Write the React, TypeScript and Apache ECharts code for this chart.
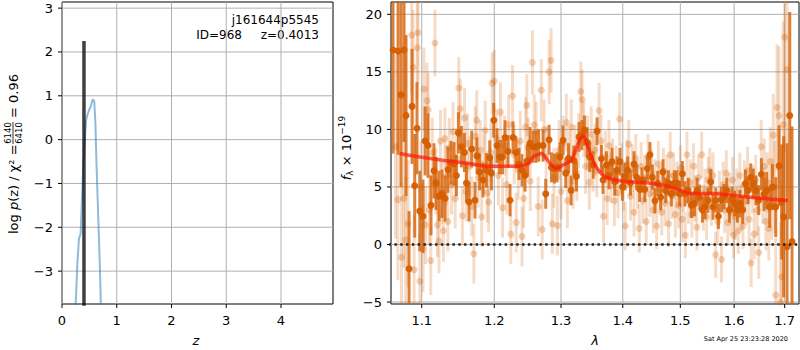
import React, { useEffect, useRef } from 'react';
import * as echarts from 'echarts';

const FONT = 'DejaVu Sans';

// ---- Left panel: p(z)
const PZ_Z = [0.2, 0.25, 0.28, 0.31, 0.34, 0.39, 0.42, 0.44, 0.47, 0.5, 0.52, 0.55, 0.567, 0.59, 0.61, 0.63, 0.66, 0.69, 0.71, 0.74];
const PZ_LOGP = [-5, -3.76, -2.83, -2.26, -2.15, -0.55, 0.06, 0.44, 0.59, 0.69, 0.73, 0.88, 0.92, 0.86, 0.37, -0.55, -1.69, -2.83, -3.76, -5];
const Z_BEST = [0.4013, 0.4013];
const Z_BEST_LOGP = [-4, 2.25];
const PZ_X_TICKS = [0, 1, 2, 3, 4];
const PZ_Y_TICKS = [-3, -2, -1, 0, 1, 2, 3];
const PZ_X_RANGE = [0, 4.95];
const PZ_Y_RANGE = [-3.75, 3.14];

// ---- Right panel: spectrum
const SPEC_X_TICKS = [1.1, 1.2, 1.3, 1.4, 1.5, 1.6, 1.7];
const SPEC_Y_TICKS = [-5, 0, 5, 10, 15, 20];
const SPEC_X_RANGE = [1.0602, 1.7295];
const SPEC_Y_RANGE = [-5.17, 21.07];

const LIGHT_WAVE = [
  1.066, 1.069, 1.0737, 1.0765, 1.079, 1.082, 1.0868, 1.0886, 1.09, 1.094, 1.0951, 1.0975, 1.099, 1.1017, 1.103, 1.105, 1.107, 1.1085, 1.11, 1.112, 1.114, 1.1176, 1.119, 1.121, 1.123, 1.125,
  1.127, 1.129, 1.131, 1.133, 1.135, 1.137, 1.14, 1.142, 1.145, 1.147, 1.15, 1.152, 1.155, 1.158, 1.16, 1.162, 1.165, 1.168, 1.171, 1.173, 1.175, 1.177, 1.18, 1.182, 1.185, 1.187, 1.19, 1.192, 1.195, 1.197, 1.2,
  1.203, 1.206, 1.209, 1.212, 1.215, 1.218, 1.221, 1.224, 1.2265, 1.229, 1.232, 1.235, 1.238, 1.2406, 1.243, 1.246, 1.2478, 1.25, 1.253, 1.2562, 1.259, 1.262, 1.265, 1.2697, 1.271, 1.274, 1.277, 1.2817, 1.2846, 1.2865, 1.289, 1.2944, 1.297,
  1.3, 1.303, 1.3083, 1.31, 1.313, 1.316, 1.319, 1.322, 1.325, 1.328, 1.3312, 1.3333, 1.336, 1.339, 1.342, 1.345, 1.348, 1.351, 1.354, 1.357, 1.3607, 1.364, 1.3681, 1.371, 1.374, 1.377, 1.38, 1.383, 1.386, 1.389, 1.392, 1.3947, 1.398,
  1.401, 1.404, 1.407, 1.41, 1.413, 1.416, 1.419, 1.422, 1.425, 1.428, 1.431, 1.434, 1.437, 1.44, 1.443, 1.446, 1.449, 1.452, 1.455, 1.458, 1.461, 1.464, 1.467, 1.47, 1.473, 1.476, 1.479, 1.482, 1.485, 1.488, 1.491, 1.494, 1.497,
  1.5, 1.503, 1.506, 1.509, 1.512, 1.515, 1.518, 1.521, 1.524, 1.527, 1.53, 1.533, 1.5389, 1.542, 1.545, 1.548, 1.551, 1.554, 1.557, 1.56, 1.565, 1.569, 1.572, 1.576, 1.579, 1.582, 1.585, 1.588, 1.591, 1.594, 1.597, 1.599,
  1.602, 1.605, 1.608, 1.611, 1.614, 1.617, 1.62, 1.623, 1.626, 1.629, 1.633, 1.636, 1.639, 1.642, 1.645, 1.648, 1.653, 1.656, 1.659, 1.662, 1.665, 1.668, 1.671, 1.674, 1.677, 1.68, 1.6819, 1.6846, 1.6886, 1.6912, 1.694, 1.697, 1.7, 1.7049,
];
const LIGHT_FLUX = [
  8.5, 3.9, -1.1, 4.0, 0.4, 1.8, 18.2, 15.4, -2.2, 17.1, 18.4, -3.2, 5.0, -0.35, 13.5, 1.7, 12.5, 11.7, 3.0, -1.4, 8.0, 17.5, 5.5, 1.7, 0.3, 9.0,
  4.5, 1.2, 9.2, 6.0, 2.0, 8.4, 5.2, 9.8, 4.0, 7.5, 13.6, 11.8, 2.5, 11.0, 4.6, 8.8, 6.8, 3.3, -0.8, 9.4, 10.8, 5.8, 8.2, 2.4, 7.0, 9.9, 4.5, 3.7, 8.0, 14.0, 14.2,
  9.2, 6.0, 11.5, 3.2, 8.6, 5.2, 10.4, 0.9, 12.9, 7.8, 1.9, 6.5, 9.0, 0.7, 4.0, 10.2, 12.1, 8.4, 5.5, 15.8, 10.4, 9.8, 3.3, 13.4, 1.3, 10.0, 7.6, 15.0, 16.0, 1.8, 5.8, 1.65, 8.2,
  4.6, 8.8, 10.6, 3.8, 7.5, 10.2, 5.5, 8.0, 6.2, 9.0, 13.3, 12.6, 10.0, 6.8, 8.8, 5.4, 9.6, 7.0, 8.2, 6.4, 11.65, 9.0, 2.45, 7.6, 4.0, 8.6, 5.8, 7.0, 3.8, 6.4, 4.5, 10.9, 6.6,
  5.0, 1.6, 7.0, 8.7, 4.2, 6.6, 2.8, 7.5, 5.2, 1.4, 6.8, 3.8, 5.8, 2.0, 7.6, 4.4, 6.2, 3.0, 5.4, 1.6, 7.0, 4.8, 2.8, 6.4, 3.6, 5.8, 1.8, 7.8, 4.2, 6.0, 2.6, 5.2, 3.4,
  6.6, 2.2, 4.8, 0.8, 7.8, 3.8, 5.4, 2.6, 6.8, 4.0, 1.5, 5.8, 7.8, 3.2, 4.6, 2.4, 5.6, 6.4, 3.6, 6.0, -0.9, 2.0, 4.4, -1.3, 5.2, 3.0, 6.2, 1.9, 4.2, 2.8, 5.6, 0.8,
  2.4, 4.6, 1.2, 6.0, 3.2, 1.6, 5.2, 3.8, 6.4, 2.2, -1.6, 4.8, 0.9, 5.6, 3.0, -0.7, 8.5, 4.2, 6.8, 2.0, 5.4, 1.4, 7.2, 3.6, 9.5, 5.0, -4.4, 11.9, 11.2, -5.0, -2.8, 10.4, 18.0, 15.2,
];
const LIGHT_ERR = [
  8, 7, 6.5, 6, 5.5, 5.5, 5, 5, 4.8, 4.5, 4.4, 4.2, 4, 3.8, 3.6, 3.4, 3.3, 3.2, 3.1, 3, 3, 2.9, 2.9, 2.8, 2.8, 2.7,
  2.7, 2.7, 2.7, 2.6, 2.6, 2.6, 2.6, 2.6, 2.6, 2.6, 2.7, 2.6, 2.6, 2.6, 2.6, 2.6, 2.6, 2.6, 2.6, 2.6, 2.6, 2.6, 2.6, 2.6, 2.6, 2.6, 2.6, 2.6, 2.6, 2.7, 2.7,
  2.6, 2.6, 2.6, 2.6, 2.6, 2.6, 2.6, 2.6, 2.7, 2.6, 2.6, 2.6, 2.6, 2.6, 2.6, 2.6, 2.7, 2.6, 2.6, 2.8, 2.6, 2.6, 2.6, 2.7, 2.6, 2.6, 2.6, 2.8, 2.8, 2.6, 2.6, 2.6, 2.6,
  2.4, 2.4, 2.5, 2.4, 2.4, 2.4, 2.4, 2.4, 2.4, 2.4, 2.6, 2.6, 2.4, 2.4, 2.4, 2.4, 2.4, 2.4, 2.3, 2.3, 2.4, 2.3, 2.3, 2.3, 2.3, 2.2, 2.2, 2.2, 2.2, 2.2, 2.2, 2.3, 2.2,
  2.1, 2.1, 2.1, 2.1, 2.1, 2.1, 2.1, 2.1, 2.1, 2.1, 2.1, 2.0, 2.0, 2.0, 2.0, 2.0, 2.0, 2.0, 2.0, 2.0, 2.0, 2.0, 2.0, 2.0, 2.0, 2.0, 2.0, 2.0, 2.0, 2.0, 2.0, 2.0, 2.0,
  2.0, 2.0, 2.0, 2.0, 2.0, 2.0, 2.0, 2.0, 2.0, 2.0, 2.0, 2.0, 2.0, 2.0, 2.0, 2.0, 2.0, 2.0, 2.0, 2.0, 2.0, 2.0, 2.0, 2.0, 2.0, 2.0, 2.0, 2.0, 2.0, 2.0, 2.0, 2.0,
  2.0, 2.0, 2.0, 2.0, 2.0, 2.0, 2.1, 2.1, 2.1, 2.1, 2.1, 2.1, 2.2, 2.2, 2.2, 2.3, 2.3, 2.4, 2.4, 2.5, 2.6, 2.8, 3.0, 3.2, 3.6, 4.0, 5.0, 5.5, 6.0, 7.0, 8.0, 9.0, 10.0, 11.0,
];

const DARK_WAVE = [
  1.0628, 1.0692, 1.073, 1.0769, 1.0795, 1.0834, 1.0873, 1.0908, 1.0938, 1.0974, 1.1017, 1.1044, 1.1083, 1.1123, 1.1163, 1.119, 1.1231, 1.1271, 1.1312, 1.1352,
  1.1393, 1.1434, 1.1467, 1.1495, 1.1536, 1.1578, 1.1606, 1.1642, 1.168, 1.1726, 1.1754, 1.1792, 1.1839, 1.1888, 1.1935, 1.1959, 1.1992, 1.204, 1.2078, 1.2118,
  1.2156, 1.22, 1.2229, 1.2273, 1.2317, 1.2361, 1.2406, 1.2451, 1.2487, 1.2526, 1.2571, 1.2616, 1.2657, 1.2723, 1.2764, 1.2815, 1.2852, 1.2898, 1.2939, 1.2985,
  1.3032, 1.3074, 1.3117, 1.3158, 1.3201, 1.3243, 1.3285, 1.3328, 1.3371, 1.3413, 1.3456, 1.351, 1.3575, 1.3646, 1.3672, 1.3728, 1.3771, 1.382, 1.3865, 1.3903,
  1.3953, 1.3993, 1.4037, 1.4082, 1.4128, 1.4189, 1.4235, 1.4286, 1.4326, 1.4377, 1.4419, 1.4464, 1.4505, 1.4551, 1.4598, 1.4651, 1.4691, 1.4739, 1.4787, 1.484,
  1.4894, 1.4941, 1.4989, 1.5038, 1.5085, 1.5139, 1.5201, 1.5256, 1.5304, 1.5353, 1.5403, 1.5451, 1.5507, 1.5557, 1.56, 1.5651, 1.5702, 1.5758, 1.5808, 1.5859,
  1.591, 1.596, 1.6012, 1.6064, 1.6114, 1.6166, 1.6219, 1.627, 1.6322, 1.6375, 1.6426, 1.648, 1.6533, 1.6585, 1.6638, 1.6698, 1.6752, 1.6819, 1.6886, 1.694,
  1.6979, 1.7049, 1.7104, 1.7151,
];
const DARK_FLUX = [
  16.9, 16.8, 13.0, 16.9, 11.2, -2.1, 12.0, 5.1, 10.1, 2.9, 2.45, 9.0, 8.6, 3.4, 6.4, 5.3, 4.2, 4.4, 4.0, 6.5,
  7.1, 7.0, 6.0, 9.7, 8.5, 8.0, 5.35, 3.7, 8.3, 3.85, 7.7, 6.3, 5.6, 6.45, 7.55, 6.2, 10.8, 8.6, 7.6, 7.6,
  9.3, 8.1, 3.85, 9.3, 8.0, 7.0, 6.45, 6.0, 7.3, 8.8, 8.5, 8.5, 8.6, 8.6, 4.4, 9.1, 6.7, 6.6, 6.7, 7.6,
  9.05, 6.2, 7.5, 4.7, 7.3, 5.9, 9.35, 9.5, 9.9, 8.9, 7.6, 6.9, 9.85, 7.45, 5.6, 6.9, 6.0, 7.2, 5.45, 6.45,
  7.2, 5.0, 5.9, 6.45, 5.35, 7.0, 5.85, 4.8, 5.6, 4.8, 6.6, 7.8, 5.85, 3.8, 5.3, 4.1, 6.3, 4.7, 5.35, 4.4,
  5.35, 5.35, 4.4, 6.15, 4.4, 4.7, 3.4, 3.55, 4.7, 4.1, 3.0, 3.3, 3.85, 5.45, 3.25, 3.85, 2.45, 3.9, 4.15, 4.7,
  3.0, 3.9, 3.55, 3.0, 3.55, 3.0, 5.3, 4.7, 5.85, 5.3, 4.7, 3.85, 6.1, 4.4, 4.7, 3.25, 5.0, 3.25, 6.85, 3.7,
  2.4, -0.2, 11.2, 0.26,
];
const DARK_ERR = [
  9, 9, 8, 8, 7, 5, 5, 4.5, 4, 3.5, 3.2, 3, 2.8, 2.6, 2.4, 2.3, 2.2, 2.1, 2.0, 2.0,
  1.9, 1.9, 1.8, 1.8, 1.8, 1.7, 1.7, 1.7, 1.6, 1.6, 1.6, 1.6, 1.5, 1.5, 1.5, 1.5, 1.5, 1.5, 1.5, 1.5,
  1.5, 1.4, 1.4, 1.4, 1.4, 1.4, 1.4, 1.4, 1.4, 1.4, 1.4, 1.4, 1.4, 1.4, 1.3, 1.3, 1.3, 1.3, 1.3, 1.3,
  1.3, 1.3, 1.3, 1.3, 1.3, 1.3, 1.3, 1.3, 1.3, 1.3, 1.3, 1.2, 1.2, 1.2, 1.2, 1.2, 1.2, 1.2, 1.2, 1.2,
  1.2, 1.2, 1.2, 1.2, 1.1, 1.1, 1.1, 1.1, 1.1, 1.1, 1.1, 1.1, 1.1, 1.1, 1.1, 1.1, 1.1, 1.1, 1.1, 1.1,
  1.1, 1.1, 1.1, 1.1, 1.1, 1.1, 1.1, 1.1, 1.1, 1.1, 1.1, 1.1, 1.1, 1.1, 1.1, 1.1, 1.1, 1.1, 1.1, 1.1,
  1.1, 1.1, 1.1, 1.1, 1.2, 1.2, 1.2, 1.2, 1.2, 1.3, 1.3, 1.3, 1.4, 1.5, 1.6, 1.8, 2.0, 2.6, 3.5, 5,
  7, 9, 9, 10,
];

const MODEL_WAVE = [1.0713, 1.098, 1.13, 1.165, 1.188, 1.232, 1.2506, 1.257, 1.264, 1.27, 1.276, 1.283, 1.293, 1.303, 1.316, 1.327, 1.332, 1.336, 1.343, 1.349, 1.356, 1.365, 1.375, 1.4, 1.434, 1.469, 1.493, 1.517, 1.56, 1.624, 1.707];
const MODEL_FLUX = [7.9, 7.6, 7.3, 7.03, 6.8, 6.8, 7.03, 7.6, 7.8, 7.9, 7.6, 7.03, 6.6, 6.9, 7.3, 8.77, 9.3, 9.4, 8.47, 7.5, 6.74, 6.1, 5.78, 5.5, 5.38, 5.15, 4.86, 4.43, 4.43, 4.13, 3.82];
const ZERO_WAVE = [1.0, 1.8];
const ZERO_FLUX = [0, 0];

const lab = (v: number) => (v < 0 ? '\u2212' + Math.abs(v) : String(v));

function xTickSeries(idx: number, ticks: number[], toAxis: (v: number) => number, yAnchor: number, labels: string[]) {
  return {
    type: 'custom', xAxisIndex: idx, yAxisIndex: idx, clip: false, silent: true, z: 1,
    data: ticks.map((t) => [toAxis(t), yAnchor]),
    encode: { x: 0, y: 1 },
    renderItem: (params: any, api: any) => {
      const cs = params.coordSys;
      const p = api.coord([api.value(0), api.value(1)]);
      const bottom = cs.y + cs.height;
      return {
        type: 'group',
        children: [
          { type: 'line', shape: { x1: p[0], y1: cs.y, x2: p[0], y2: bottom }, style: { stroke: '#b0b0b0', lineWidth: 1 } },
          { type: 'line', shape: { x1: p[0], y1: bottom, x2: p[0], y2: bottom + 4 }, style: { stroke: '#000', lineWidth: 1 } },
          { type: 'text', x: p[0], y: bottom + 16, style: { text: labels[params.dataIndex], fontSize: 13, fontFamily: FONT, fill: '#000', align: 'center', textAlign: 'center', verticalAlign: 'middle', textVerticalAlign: 'middle' } },
        ],
      };
    },
  };
}

function yTickSeries(idx: number, ticks: number[], xAnchor: number, labels: string[]) {
  return {
    type: 'custom', xAxisIndex: idx, yAxisIndex: idx, clip: false, silent: true, z: 1,
    data: ticks.map((t) => [xAnchor, t]),
    encode: { x: 0, y: 1 },
    renderItem: (params: any, api: any) => {
      const cs = params.coordSys;
      const p = api.coord([api.value(0), api.value(1)]);
      return {
        type: 'group',
        children: [
          { type: 'line', shape: { x1: cs.x, y1: p[1], x2: cs.x + cs.width, y2: p[1] }, style: { stroke: '#b0b0b0', lineWidth: 1 } },
          { type: 'line', shape: { x1: cs.x - 4, y1: p[1], x2: cs.x, y2: p[1] }, style: { stroke: '#000', lineWidth: 1 } },
          { type: 'text', x: cs.x - 9, y: p[1], style: { text: labels[params.dataIndex], fontSize: 13, fontFamily: FONT, fill: '#000', align: 'right', textAlign: 'right', verticalAlign: 'middle', textVerticalAlign: 'middle' } },
        ],
      };
    },
  };
}

function errorBarSeries(wave: number[], flux: number[], err: number[], color: string, opacity: number) {
  return {
    type: 'custom', xAxisIndex: 1, yAxisIndex: 1, clip: true, silent: true, z: 2,
    data: wave.map((w, i) => [Math.log(w), flux[i], err[i]]),
    encode: { x: 0, y: 1 },
    renderItem: (params: any, api: any) => {
      const x = api.value(0);
      const y = api.value(1);
      const e = api.value(2);
      const a = api.coord([x, y - e]);
      const b = api.coord([x, y + e]);
      return { type: 'line', shape: { x1: a[0], y1: a[1], x2: b[0], y2: b[1] }, style: { stroke: color, lineWidth: 3, opacity } };
    },
  };
}

function buildOption(): any {
  const ln = (v: number) => Math.log(v);
  const txt = (extra: any) => ({ fontFamily: FONT, fill: '#000', ...extra });
  return {
    animation: false,
    backgroundColor: '#ffffff',
    grid: [
      { left: 62, top: 2, width: 271, height: 302, show: true, borderColor: '#000', borderWidth: 1, backgroundColor: 'transparent' },
      { left: 391, top: 2, width: 408, height: 302, show: true, borderColor: '#000', borderWidth: 1, backgroundColor: 'transparent' },
    ],
    xAxis: [
      { gridIndex: 0, type: 'value', min: PZ_X_RANGE[0], max: PZ_X_RANGE[1], show: false },
      { gridIndex: 1, type: 'value', min: ln(SPEC_X_RANGE[0]), max: ln(SPEC_X_RANGE[1]), show: false },
    ],
    yAxis: [
      { gridIndex: 0, type: 'value', min: PZ_Y_RANGE[0], max: PZ_Y_RANGE[1], show: false },
      { gridIndex: 1, type: 'value', min: SPEC_Y_RANGE[0], max: SPEC_Y_RANGE[1], show: false },
    ],
    series: [
      xTickSeries(0, PZ_X_TICKS, (v) => v, 0, PZ_X_TICKS.map(lab)),
      yTickSeries(0, PZ_Y_TICKS, 1, PZ_Y_TICKS.map(lab)),
      {
        type: 'line', xAxisIndex: 0, yAxisIndex: 0, symbol: 'none', z: 3,
        data: PZ_Z.map((z, i) => [z, PZ_LOGP[i]]),
        lineStyle: { color: '#1f77b4', opacity: 0.5, width: 2 },
      },
      {
        type: 'line', xAxisIndex: 0, yAxisIndex: 0, symbol: 'none', z: 4,
        data: Z_BEST.map((z, i) => [z, Z_BEST_LOGP[i]]),
        lineStyle: { color: '#000', opacity: 0.75, width: 3.5 },
      },
      xTickSeries(1, SPEC_X_TICKS, ln, 0, SPEC_X_TICKS.map((v) => v.toFixed(1))),
      yTickSeries(1, SPEC_Y_TICKS, ln(1.3), SPEC_Y_TICKS.map(lab)),
      errorBarSeries(LIGHT_WAVE, LIGHT_FLUX, LIGHT_ERR, '#d55e00', 0.22),
      {
        type: 'scatter', xAxisIndex: 1, yAxisIndex: 1, symbol: 'circle', symbolSize: 7, z: 2,
        data: LIGHT_WAVE.map((w, i) => [ln(w), LIGHT_FLUX[i]]),
        itemStyle: { color: '#d55e00', opacity: 0.28 },
      },
      errorBarSeries(DARK_WAVE, DARK_FLUX, DARK_ERR, '#d55e00', 0.78),
      {
        type: 'scatter', xAxisIndex: 1, yAxisIndex: 1, symbol: 'circle', symbolSize: 7, z: 2,
        data: DARK_WAVE.map((w, i) => [ln(w), DARK_FLUX[i]]),
        itemStyle: { color: '#d55e00', opacity: 0.95 },
      },
      {
        type: 'line', xAxisIndex: 1, yAxisIndex: 1, symbol: 'none', z: 5, smooth: 0.2,
        data: MODEL_WAVE.map((w, i) => [ln(w), MODEL_FLUX[i]]),
        lineStyle: { color: '#ff1a0a', opacity: 0.72, width: 3.5 },
      },
      {
        type: 'line', xAxisIndex: 1, yAxisIndex: 1, symbol: 'none', z: 6,
        data: ZERO_WAVE.map((w, i) => [ln(w), ZERO_FLUX[i]]),
        lineStyle: { color: '#222', width: 2.3, type: [2.4, 3.4] },
      },
    ],
    graphic: [
      { type: 'text', x: 319, y: 20, style: txt({ text: 'j161644p5545', fontSize: 12, align: 'right', textAlign: 'right', verticalAlign: 'middle', textVerticalAlign: 'middle' }) },
      { type: 'text', x: 242, y: 35, style: txt({ text: 'ID=968', fontSize: 12, align: 'right', textAlign: 'right', verticalAlign: 'middle', textVerticalAlign: 'middle' }) },
      { type: 'text', x: 319, y: 35, style: txt({ text: 'z=0.4013', fontSize: 12, align: 'right', textAlign: 'right', verticalAlign: 'middle', textVerticalAlign: 'middle' }) },
      { type: 'text', x: 196, y: 340, style: txt({ text: 'z', fontSize: 13, fontStyle: 'italic', align: 'center', textAlign: 'center', verticalAlign: 'middle', textVerticalAlign: 'middle' }) },
      { type: 'text', x: 595, y: 340, style: txt({ text: '\u03bb', fontSize: 13, fontStyle: 'italic', align: 'center', textAlign: 'center', verticalAlign: 'middle', textVerticalAlign: 'middle' }) },
      { type: 'text', x: 788, y: 339, style: txt({ text: 'Sat Apr 25 23:23:28 2020', fontSize: 6.5, align: 'right', textAlign: 'right', verticalAlign: 'middle', textVerticalAlign: 'middle' }) },
      {
        type: 'group', x: 13, y: 234, rotation: Math.PI / 2,
        children: [
          { type: 'text', x: 0, y: 0, style: txt({ text: 'log {i|p}(z) / \u03c7\u00b2 =', fontSize: 13, align: 'left', textAlign: 'left', verticalAlign: 'middle', textVerticalAlign: 'middle', rich: { i: { fontStyle: 'italic', fontSize: 13, fontFamily: FONT } } }) },
          { type: 'text', x: 101, y: -5, style: txt({ text: '6140', fontSize: 8.5, align: 'center', textAlign: 'center', verticalAlign: 'middle', textVerticalAlign: 'middle' }) },
          { type: 'line', shape: { x1: 90, y1: 0, x2: 112, y2: 0 }, style: { stroke: '#000', lineWidth: 0.8 } },
          { type: 'text', x: 101, y: 5.5, style: txt({ text: '6410', fontSize: 8.5, align: 'center', textAlign: 'center', verticalAlign: 'middle', textVerticalAlign: 'middle' }) },
          { type: 'text', x: 116, y: 0, style: txt({ text: '= 0.96', fontSize: 13, align: 'left', textAlign: 'left', verticalAlign: 'middle', textVerticalAlign: 'middle' }) },
        ],
      },
      {
        type: 'text', x: 346, y: 148, rotation: Math.PI / 2,
        style: txt({
          text: '{i|f}{sub|\u03bb} \u00d7 10{sup|\u221219}', fontSize: 13, align: 'center', textAlign: 'center', verticalAlign: 'middle', textVerticalAlign: 'middle',
          rich: {
            i: { fontStyle: 'italic', fontSize: 13, fontFamily: FONT },
            sub: { fontSize: 9, fontFamily: FONT, padding: [8, 0, 0, 0] },
            sup: { fontSize: 9, fontFamily: FONT, padding: [0, 0, 8, 0] },
          },
        }),
      },
    ],
  };
}

export default function App() {
  const ref = useRef<HTMLDivElement>(null);
  useEffect(() => {
    const chart = echarts.init(ref.current as HTMLDivElement, null, { renderer: 'svg' });
    chart.setOption(buildOption());
    return () => chart.dispose();
  }, []);
  return <div ref={ref} style={{ position: 'fixed', left: 0, top: 0, width: 800, height: 350 }} />;
}
